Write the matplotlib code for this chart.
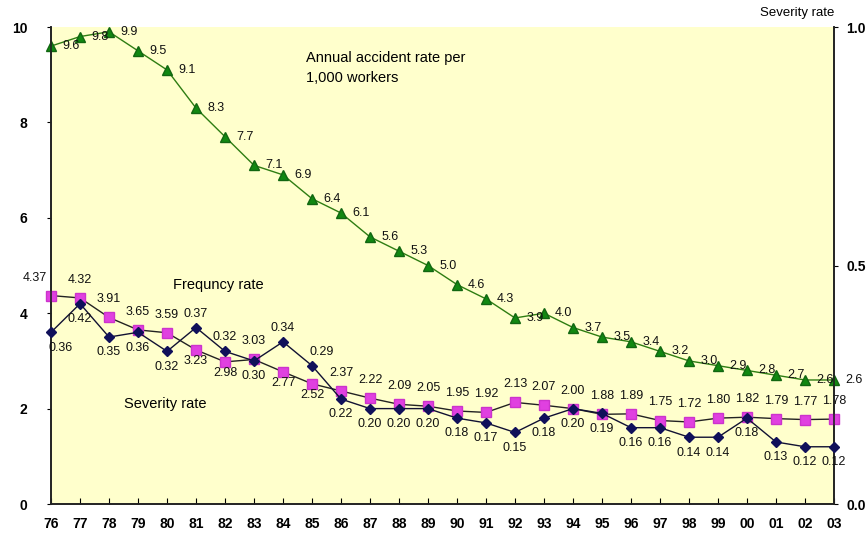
import matplotlib
matplotlib.use("Agg")
from matplotlib import pyplot as plt

plt.rcParams['font.family'] = ['Liberation Sans', 'DejaVu Sans']

years = ['76', '77', '78', '79', '80', '81', '82', '83', '84', '85', '86', '87', '88', '89',
         '90', '91', '92', '93', '94', '95', '96', '97', '98', '99', '00', '01', '02', '03']
accident = [9.6, 9.8, 9.9, 9.5, 9.1, 8.3, 7.7, 7.1, 6.9, 6.4, 6.1, 5.6, 5.3, 5.0,
            4.6, 4.3, 3.9, 4.0, 3.7, 3.5, 3.4, 3.2, 3.0, 2.9, 2.8, 2.7, 2.6, 2.6]
frequency = [4.37, 4.32, 3.91, 3.65, 3.59, 3.23, 2.98, 3.03, 2.77, 2.52, 2.37, 2.22, 2.09, 2.05,
             1.95, 1.92, 2.13, 2.07, 2.00, 1.88, 1.89, 1.75, 1.72, 1.80, 1.82, 1.79, 1.77, 1.78]
severity = [0.36, 0.42, 0.35, 0.36, 0.32, 0.37, 0.32, 0.30, 0.34, 0.29, 0.22, 0.20, 0.20, 0.20,
            0.18, 0.17, 0.15, 0.18, 0.20, 0.19, 0.16, 0.16, 0.14, 0.14, 0.18, 0.13, 0.12, 0.12]

# label side: a = above, b = below
freq_side = list("aaaaabbabbaaaaaaaaaaaaaaaaaa")
sev_side = list("bbbbbaabaabbbbbbbbbbbbbbbbbb")

x = list(range(len(years)))

fig = plt.figure(figsize=(8.68, 5.36), dpi=100)
ax = fig.add_axes([0.0588, 0.0597, 0.9020, 0.8899])
ax.set_facecolor('#FFFFCC')
ax2 = ax.twinx()

ax.plot(x, accident, color='#2E7D12', lw=1, marker='^', ms=7, mfc='#118811', mec='#116611',
        zorder=3, clip_on=False)
ax.plot(x, frequency, color='#222222', lw=1, marker='s', ms=7, mfc='#E040E0', mec='#CC33CC',
        zorder=3, clip_on=False)
ax2.plot(x, severity, color='#111133', lw=1, marker='D', ms=5.5, mfc='#10105A', mec='#10105A',
         zorder=3, clip_on=False)

lbl = dict(fontsize=9, color='#111111')
for i, v in enumerate(accident):
    ax.annotate(f"{v:.1f}", (i, v), xytext=(8, 0), textcoords='offset points',
                ha='left', va='center', annotation_clip=False, **lbl)
for i, v in enumerate(frequency):
    dy = 13 if freq_side[i] == 'a' else -8
    dx = -12 if i == 0 else 0
    ax.annotate(f"{v:.2f}", (i, v), xytext=(dx, dy), textcoords='offset points',
                ha='center', va='center', **lbl)
for i, v in enumerate(severity):
    dy = 10 if sev_side[i] == 'a' else -11
    dx = 7 if i in (0, 9) else 0
    ax2.annotate(f"{v:.2f}", (i, v), xytext=(dx, dy), textcoords='offset points',
                 ha='center', va='center', **lbl)

tickfont = dict(fontweight='bold', fontsize=10, family=['Liberation Sans Narrow', 'Liberation Sans'])
ax.set_xlim(0, len(years) - 1)
ax.set_ylim(0, 10)
ax2.set_ylim(0, 1)
ax.set_xticks(x)
ax.set_xticklabels(years, **tickfont)
ax.set_yticks([0, 2, 4, 6, 8, 10])
ax.set_yticklabels(['0', '2', '4', '6', '8', '10'], **tickfont)
ax2.set_yticks([0, 0.5, 1.0])
ax2.set_yticklabels(['0.0', '0.5', '1.0'], **tickfont)
ax.tick_params(axis='x', direction='in', length=4, pad=9)
ax.tick_params(axis='y', direction='out', length=3, pad=14)
ax2.tick_params(axis='y', direction='out', length=3, pad=6)

for a in (ax, ax2):
    a.spines['top'].set_visible(False)
    for s in ('left', 'right', 'bottom'):
        a.spines[s].set_linewidth(1.2)
        a.spines[s].set_color('#222222')

ax.text(8.8, 9.5, "Annual accident rate per\n1,000 workers", fontsize=10.5, va='top', ha='left',
        linespacing=1.6)
ax.text(4.2, 4.6, "Frequncy rate", fontsize=10.5, va='center', ha='left')
ax.text(2.5, 2.1, "Severity rate", fontsize=10.5, va='center', ha='left')
fig.text(0.876, 0.975, "Severity rate", fontsize=9.5, va='center', ha='left')

fig.savefig('out.png', dpi=100, facecolor='white')
